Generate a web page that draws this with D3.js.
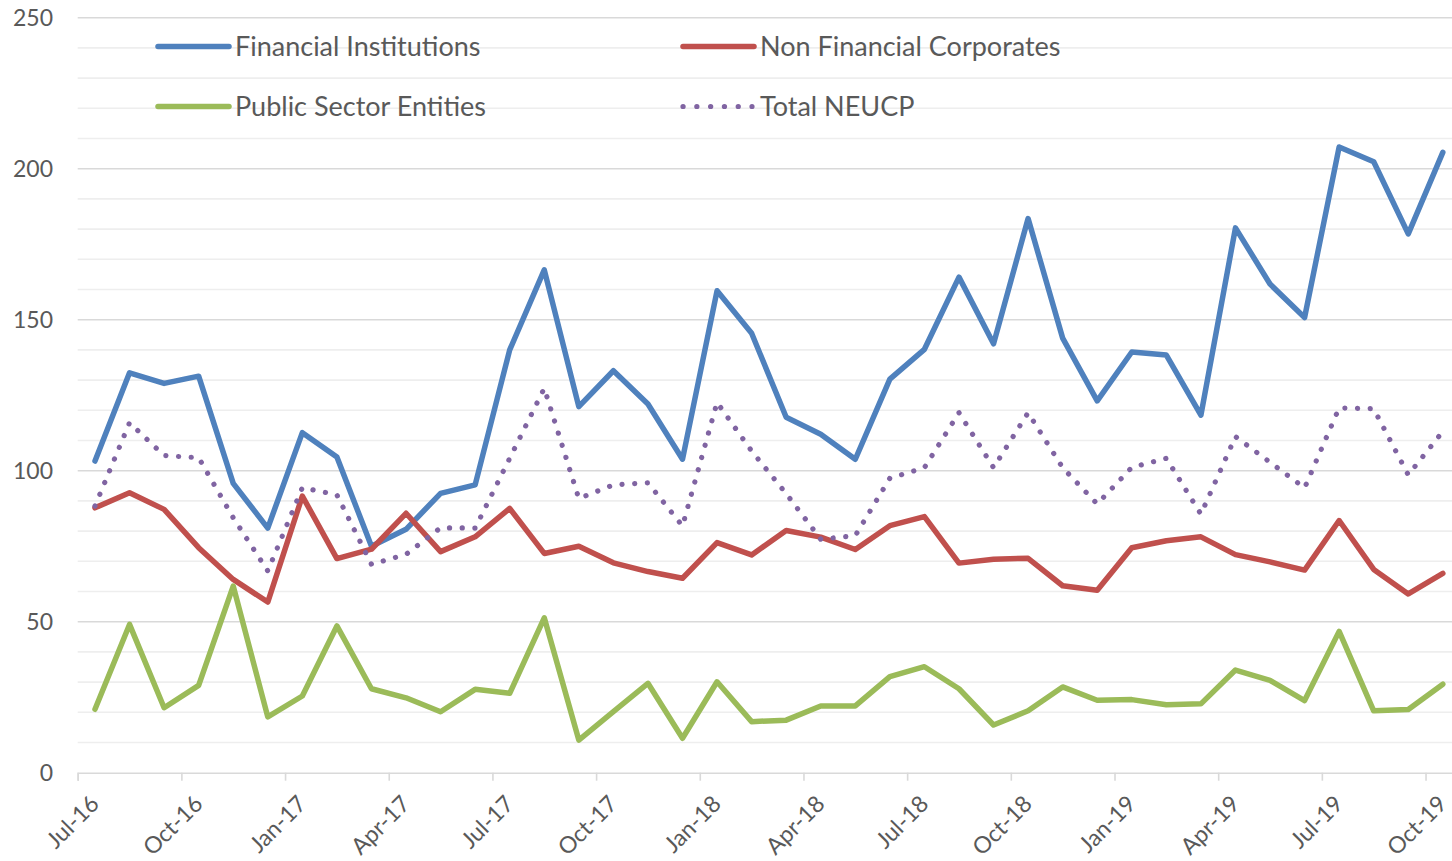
<!DOCTYPE html>
<html>
<head>
<meta charset="utf-8">
<script src="https://cdn.jsdelivr.net/npm/d3@7"></script>
<style>
  body { margin: 0; background: #fff; }
  text { font-family: Lato, "Open Sans", sans-serif; fill: #595959; }
</style>
</head>
<body>
<div id="app"></div>
<script>
// monthly observations, Jul-16 .. Oct-19
const months = ['Jul-16', 'Aug-16', 'Sep-16', 'Oct-16', 'Nov-16', 'Dec-16',
  'Jan-17', 'Feb-17', 'Mar-17', 'Apr-17', 'May-17', 'Jun-17', 'Jul-17', 'Aug-17', 'Sep-17', 'Oct-17', 'Nov-17', 'Dec-17',
  'Jan-18', 'Feb-18', 'Mar-18', 'Apr-18', 'May-18', 'Jun-18', 'Jul-18', 'Aug-18', 'Sep-18', 'Oct-18', 'Nov-18', 'Dec-18',
  'Jan-19', 'Feb-19', 'Mar-19', 'Apr-19', 'May-19', 'Jun-19', 'Jul-19', 'Aug-19', 'Sep-19', 'Oct-19'];

const financialInstitutions = [103.2, 132.4, 128.9, 131.3, 95.8, 81, 112.6, 104.5, 75, 80.6,
  92.5, 95.3, 140, 166.5, 121.2, 133.1, 122.1, 103.8, 159.6, 145.5,
  117.7, 112.1, 103.8, 130.3, 140.2, 164.1, 142, 183.5, 143.9, 123.1,
  139.3, 138.3, 118.4, 180.4, 161.8, 150.7, 207.2, 202.3, 178.4, 205.4];

const nonFinancialCorporates = [87.7, 92.7, 87.2, 74.5, 64, 56.5, 91.6, 70.9, 74, 85.9,
  73.2, 78.1, 87.5, 72.6, 75, 69.5, 66.6, 64.4, 76.2, 72.1,
  80.2, 78, 73.9, 81.8, 84.8, 69.4, 70.7, 71, 61.9, 60.4,
  74.5, 76.8, 78.1, 72.2, 69.8, 67.1, 83.5, 67.3, 59.2, 66];

const publicSectorEntities = [21, 49.1, 21.5, 28.9, 61.8, 18.5, 25.4, 48.6, 27.8, 24.8,
  20.2, 27.6, 26.3, 51.3, 10.8, 20.2, 29.6, 11.4, 30.1, 16.9,
  17.4, 22.1, 22.1, 31.8, 35.1, 27.8, 15.8, 20.5, 28.4, 24,
  24.2, 22.5, 22.8, 34, 30.6, 23.9, 46.8, 20.5, 20.9, 29.3];

const totalNeucp = [88.3, 115.9, 105, 104.3, 84.4, 66.8, 94.4, 92, 69, 72.3,
  81.1, 81, 104.1, 127.3, 90.8, 95.3, 96, 81.7, 122.6, 106.5,
  92.4, 77.3, 78.5, 97.5, 101, 119.2, 101, 119.2, 101, 89,
  101.1, 104.1, 85.6, 111.3, 102.8, 94.3, 120.8, 120.5, 98.6, 113];

const yTicks = [0, 50, 100, 150, 200, 250];

const series = [
  { name: 'Financial Institutions', values: financialInstitutions, color: '#4F81BD', dotted: false },
  { name: 'Non Financial Corporates', values: nonFinancialCorporates, color: '#C0504D', dotted: false },
  { name: 'Public Sector Entities', values: publicSectorEntities, color: '#9BBB59', dotted: false },
  { name: 'Total NEUCP', values: totalNeucp, color: '#8064A2', dotted: true }
];

const svg = d3.select('#app').append('svg')
    .attr('width', 1452)
    .attr('height', 861);

const margin = { top: 17.7, left: 77.7 };
const monthW = 34.56;

// one band per month, points sit in the middle of their month
const x = d3.scaleLinear()
    .domain([0, months.length])
    .range([margin.left, margin.left + months.length * monthW]);

const y = d3.scaleLinear()
    .domain([0, 250])
    .range([772.7, margin.top]);

// grid
const grid = svg.append('g');
grid.selectAll('line')
  .data(d3.range(10, 251, 10))
  .enter().append('line')
    .attr('x1', x(0))
    .attr('x2', x(months.length))
    .attr('y1', d => y(d))
    .attr('y2', d => y(d))
    .attr('stroke', d => d % 50 === 0 ? '#d9d9d9' : '#eeeeee')
    .attr('stroke-width', 1.6);

// x axis
const xAxis = svg.append('g')
    .attr('transform', `translate(0,${y(0)})`)
    .call(d3.axisBottom(x)
      .tickValues(d3.range(0, months.length, 3))
      .tickSize(8)
      .tickFormat(''));
xAxis.select('.domain').attr('stroke', '#d9d9d9').attr('stroke-width', 1.6);
xAxis.selectAll('.tick line').attr('stroke', '#d9d9d9').attr('stroke-width', 1.6);

svg.append('g')
  .selectAll('text')
  .data(d3.range(0, months.length, 3))
  .enter().append('text')
    .attr('transform', i => `translate(${x(i) + 17},${y(0) + 27}) rotate(-45)`)
    .attr('text-anchor', 'end')
    .attr('dy', '0.35em')
    .attr('font-size', 23)
    .text(i => months[i]);

// y labels
svg.append('g')
  .selectAll('text')
  .data(yTicks)
  .enter().append('text')
    .attr('x', 53)
    .attr('y', d => y(d))
    .attr('dy', '0.35em')
    .attr('text-anchor', 'end')
    .attr('font-size', 23)
    .text(d => d);

// lines
const line = d3.line()
    .x((d, i) => x(i + 0.5))
    .y(d => y(d));

svg.append('g')
  .selectAll('path')
  .data(series)
  .enter().append('path')
    .attr('d', d => line(d.values))
    .attr('fill', 'none')
    .attr('stroke', d => d.color)
    .attr('stroke-width', d => d.dotted ? 5.2 : 5.5)
    .attr('stroke-linejoin', 'round')
    .attr('stroke-linecap', 'round')
    .attr('stroke-dasharray', d => d.dotted ? '0.1 12.6' : null);

// legend
const legend = svg.append('g')
  .selectAll('.legend')
  .data(series)
  .enter().append('g')
    .attr('class', 'legend')
    .attr('transform', (d, i) => `translate(${i % 2 ? 683 : 158},${i < 2 ? 46.5 : 106.5})`);

legend.append('line')
    .attr('x1', 0)
    .attr('x2', d => d.dotted ? 69 : 71)
    .attr('stroke', d => d.color)
    .attr('stroke-width', d => d.dotted ? 5.2 : 5.5)
    .attr('stroke-linecap', 'round')
    .attr('stroke-dasharray', d => d.dotted ? '0.1 13.7' : null);

legend.append('text')
    .attr('x', d => 77)
    .attr('dy', '0.35em')
    .attr('font-size', 27)
    .text(d => d.name);
</script>
</body>
</html>
